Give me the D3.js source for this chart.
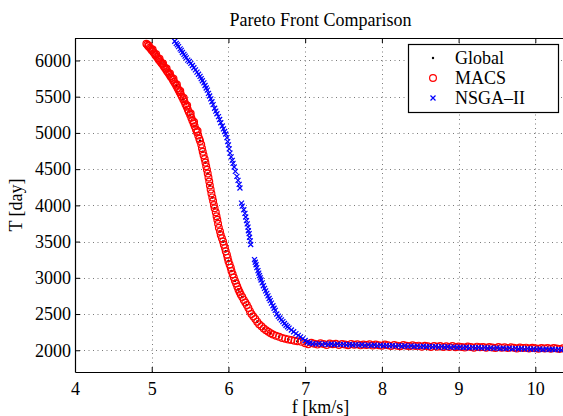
<!DOCTYPE html>
<html>
<head>
<meta charset="utf-8">
<script src="https://cdn.jsdelivr.net/npm/d3@7"></script>
<style>
  html, body { margin: 0; padding: 0; background: #fff; }
  svg { display: block; }
  text { font-family: "Liberation Serif", "Times New Roman", serif; fill: #000; }
</style>
</head>
<body>
<svg id="chart" width="563" height="416"></svg>
<script>
// Axis ticks
const xTicks = [4, 5, 6, 7, 8, 9, 10];
const yTicks = [2000, 2500, 3000, 3500, 4000, 4500, 5000, 5500, 6000];

// Legend entries
const seriesNames = ["Global", "MACS", "NSGA\u2013II"];

// MACS front: [f (km/s), T (day)]
const macsPoints = [
  [4.930,6230],[4.942,6216],[4.955,6196],[4.962,6205],[4.975,6176],[4.988,6162],[5.000,6140],[5.012,6150],
  [5.020,6118],[5.034,6100],[5.048,6072],[5.058,6086],[5.066,6050],[5.080,6032],[5.094,6008],[5.102,6022],
  [5.112,5986],[5.126,5964],[5.140,5946],[5.148,5958],[5.156,5920],[5.170,5900],[5.186,5876],[5.194,5890],
  [5.200,5852],[5.216,5830],[5.230,5806],[5.238,5820],[5.246,5780],[5.260,5760],[5.276,5732],[5.284,5748],
  [5.290,5706],[5.304,5682],[5.320,5650],[5.328,5668],[5.336,5620],[5.350,5594],[5.364,5562],[5.372,5578],
  [5.380,5530],[5.394,5500],[5.410,5464],[5.418,5482],[5.426,5432],[5.440,5396],[5.456,5360],[5.462,5378],
  [5.470,5324],[5.484,5290],[5.500,5250],[5.508,5268],[5.516,5210],[5.530,5172],[5.546,5130],[5.552,5150],
  [5.560,5092],[5.576,5048],[5.590,5008],[5.598,5026],[5.606,4964],[5.620,4920],
  [5.630,4890],[5.645,4840],[5.655,4790],[5.665,4740],[5.676,4690],[5.690,4640],[5.700,4590],[5.710,4540],
  [5.720,4490],[5.730,4440],[5.740,4385],[5.750,4330],[5.758,4275],[5.768,4220],[5.778,4165],[5.790,4110],
  [5.800,4060],[5.810,4005],[5.820,3960],[5.835,3905],[5.845,3850],[5.855,3800],[5.865,3745],[5.875,3690],
  [5.890,3640],[5.900,3590],[5.915,3545],[5.930,3500],[5.940,3455],[5.955,3410],[5.965,3365],[5.980,3320],
  [5.990,3275],[6.000,3230],[6.015,3185],[6.030,3140],[6.040,3095],[6.055,3050],[6.070,3005],[6.085,2960],
  [6.100,2920],[6.115,2880],[6.130,2840],[6.145,2805],[6.160,2770],[6.180,2735],[6.200,2695],[6.220,2660],
  [6.240,2625],[6.260,2585],[6.280,2540],[6.300,2500],[6.325,2465],[6.350,2430],[6.375,2395],[6.400,2360],
  [6.430,2330],[6.460,2300],[6.490,2275],[6.520,2255],[6.550,2235],[6.580,2218],[6.620,2200],[6.660,2185],
  [6.700,2170],[6.740,2160],[6.780,2150],[6.820,2140],[6.860,2132],[6.900,2125],[6.950,2116],
  [7.000,2098],[7.040,2084],[7.080,2102],[7.120,2090],[7.160,2078],[7.200,2096],[7.240,2086],[7.280,2074],
  [7.320,2094],[7.360,2082],[7.400,2090],[7.440,2072],[7.480,2088],[7.520,2080],[7.560,2070],[7.600,2088],
  [7.640,2076],[7.680,2084],[7.720,2068],[7.760,2080],[7.800,2072],[7.840,2084],[7.880,2066],[7.920,2078],
  [7.960,2070],[8.000,2062],[8.040,2078],[8.080,2068],[8.120,2060],[8.160,2074],[8.200,2064],[8.240,2056],
  [8.280,2072],[8.320,2062],[8.360,2054],[8.400,2068],[8.440,2058],[8.480,2064],[8.520,2050],[8.560,2062],
  [8.600,2054],[8.640,2046],[8.680,2060],[8.720,2050],[8.760,2058],[8.800,2044],[8.840,2054],[8.880,2046],
  [8.920,2058],[8.960,2042],[9.000,2052],[9.040,2046],[9.080,2038],[9.120,2052],[9.160,2044],[9.200,2036],
  [9.240,2050],[9.280,2040],[9.320,2046],[9.360,2034],[9.400,2044],[9.440,2038],[9.480,2030],[9.520,2044],
  [9.560,2036],[9.600,2042],[9.640,2030],[9.680,2040],[9.720,2034],[9.760,2026],[9.800,2038],[9.840,2030],
  [9.880,2036],[9.920,2024],[9.960,2034],[10.000,2028],[10.040,2020],[10.080,2032],[10.120,2026],[10.160,2030],
  [10.200,2020],[10.240,2030],[10.280,2024],[10.320,2018],[10.360,2028],[10.400,2022]
];

// NSGA-II front: [f (km/s), T (day)]
const nsgaPoints = [
  [5.300,6265],[5.320,6235],[5.335,6215],[5.350,6190],[5.370,6160],[5.385,6140],[5.400,6110],[5.420,6085],
  [5.435,6060],[5.450,6035],[5.470,6005],[5.490,5985],[5.510,5960],[5.530,5930],[5.550,5900],[5.570,5870],
  [5.590,5840],[5.610,5810],[5.630,5780],[5.645,5750],[5.660,5720],[5.680,5690],[5.695,5655],[5.710,5620],
  [5.725,5590],[5.740,5545],[5.755,5510],[5.770,5470],[5.785,5430],[5.800,5390],[5.820,5340],[5.835,5300],
  [5.850,5265],[5.870,5225],[5.885,5185],[5.900,5140],[5.920,5095],[5.935,5055],[5.950,5020],[5.965,4985],
  [5.980,4935],[5.990,4880],[6.000,4835],[6.010,4780],[6.020,4720],[6.035,4670],[6.050,4620],[6.060,4580],
  [6.075,4530],[6.090,4470],[6.110,4400],[6.125,4345],[6.140,4290],[6.150,4240],
  [6.170,4030],[6.180,3990],[6.200,3940],[6.215,3890],[6.225,3840],[6.235,3790],[6.245,3745],[6.255,3700],
  [6.260,3650],[6.270,3610],[6.275,3560],[6.285,3510],[6.290,3460],
  [6.340,3250],[6.350,3215],[6.360,3180],[6.370,3140],[6.385,3100],[6.395,3065],[6.405,3030],[6.415,3000],
  [6.425,2970],[6.440,2930],[6.455,2890],[6.470,2855],[6.485,2820],[6.500,2785],[6.515,2750],[6.530,2715],
  [6.545,2685],[6.560,2650],[6.580,2615],[6.595,2580],[6.610,2550],[6.630,2500],[6.650,2470],[6.670,2445],
  [6.690,2420],[6.710,2395],[6.730,2370],[6.750,2345],[6.770,2325],[6.790,2305],[6.820,2280],[6.850,2255],
  [6.880,2230],[6.910,2205],[6.940,2185],[6.970,2160],[7.000,2135],[7.030,2110],[7.060,2100],
  [7.100,2090],[7.140,2084],[7.180,2092],[7.220,2082],[7.260,2088],[7.300,2080],[7.340,2086],[7.380,2076],
  [7.420,2084],[7.460,2078],[7.500,2082],[7.540,2074],[7.580,2080],[7.620,2072],[7.660,2078],[7.700,2070],
  [7.740,2076],[7.780,2068],[7.820,2074],[7.860,2066],[7.900,2072],[7.940,2064],[7.980,2070],[8.020,2062],
  [8.060,2068],[8.100,2060],[8.140,2066],[8.180,2058],[8.220,2064],[8.260,2056],[8.300,2062],[8.340,2054],
  [8.380,2060],[8.420,2052],[8.460,2058],[8.500,2050],[8.540,2056],[8.580,2048],[8.620,2054],[8.660,2046],
  [8.700,2052],[8.740,2044],[8.780,2050],[8.820,2042],[8.860,2048],[8.900,2040],[8.940,2046],[8.980,2038],
  [9.020,2044],[9.060,2036],[9.100,2042],[9.140,2034],[9.180,2040],[9.220,2032],[9.260,2038],[9.300,2030],
  [9.340,2036],[9.380,2028],[9.420,2034],[9.460,2026],[9.500,2032],[9.540,2024],[9.580,2030],[9.620,2022],
  [9.660,2028],[9.700,2020],[9.740,2026],[9.780,2018],[9.820,2024],[9.860,2016],[9.900,2022],[9.940,2014],
  [9.980,2020],[10.020,2012],[10.060,2018],[10.100,2010],[10.140,2016],[10.180,2010],[10.220,2014],[10.260,2008],
  [10.300,2012],[10.340,2006],[10.380,2010]
];

// Global reference front: [f (km/s), T (day)]
const globalPoints = [
  [5.126,5964],[5.230,5806],[5.320,5650],[5.410,5464],[5.500,5250],[5.560,5092],
  [5.630,4890],[5.665,4740],[5.700,4590],[5.730,4440],[5.758,4275],[5.790,4110],[5.820,3960],[5.855,3800],
  [5.890,3640],[5.930,3500],[5.965,3365],[6.000,3230],[6.040,3095],[6.085,2960],[6.130,2840],[6.180,2735],
  [6.240,2625],[6.300,2500],[6.375,2395],[6.460,2300],[6.550,2235],[6.660,2185],[6.780,2150],[6.900,2125],
  [7.000,2098],[7.200,2088],[7.400,2084],[7.600,2078],[7.800,2072],[8.000,2066],[8.200,2060],[8.400,2056],
  [8.600,2050],[8.800,2046],[9.000,2042],[9.200,2038],[9.400,2034],[9.600,2030],[9.800,2026],[10.000,2022],
  [10.200,2018],[10.400,2014]
];

const svg = d3.select("#chart");
const margin = { left: 75, top: 38, right: 566, bottom: 372 };

const x = d3.scaleLinear().domain([4, 10.4]).range([margin.left, margin.right]);
const y = d3.scaleLinear().domain([1700, 6310]).range([margin.bottom, margin.top]);

svg.append("defs").append("clipPath").attr("id", "plot-clip")
  .append("rect")
  .attr("x", margin.left).attr("y", margin.top)
  .attr("width", margin.right - margin.left).attr("height", margin.bottom - margin.top);

// Dotted grid
const grid = svg.append("g").attr("class", "grid")
  .attr("stroke", "#7a7a7a").attr("stroke-width", 1).attr("stroke-dasharray", "1,3.5");
grid.selectAll("line.gx").data(xTicks.slice(1)).join("line").attr("class", "gx")
  .attr("x1", d => Math.round(x(d)) + 0.5).attr("x2", d => Math.round(x(d)) + 0.5)
  .attr("y1", margin.top).attr("y2", margin.bottom);
grid.selectAll("line.gy").data(yTicks).join("line").attr("class", "gy")
  .attr("y1", d => Math.round(y(d)) + 0.5).attr("y2", d => Math.round(y(d)) + 0.5)
  .attr("x1", margin.left).attr("x2", margin.right);

// Data markers
const plot = svg.append("g").attr("clip-path", "url(#plot-clip)");

plot.append("g").selectAll("circle").data(globalPoints).join("circle")
  .attr("cx", d => x(d[0])).attr("cy", d => y(d[1])).attr("r", 1.3).attr("fill", "#000");

plot.append("g").selectAll("circle").data(macsPoints).join("circle")
  .attr("cx", d => x(d[0])).attr("cy", d => y(d[1])).attr("r", 3.4)
  .attr("fill", "none").attr("stroke", "#ff0000").attr("stroke-width", 1.2);

const xMark = 2.5;
plot.append("g").selectAll("path").data(nsgaPoints).join("path")
  .attr("d", d => {
    const cx = x(d[0]), cy = y(d[1]);
    return `M${cx - xMark},${cy - xMark}L${cx + xMark},${cy + xMark}M${cx - xMark},${cy + xMark}L${cx + xMark},${cy - xMark}`;
  })
  .attr("fill", "none").attr("stroke", "#0000ff").attr("stroke-width", 1.2);

// Axes (ticks inward, mirrored on top)
const axisBottom = d3.axisBottom(x).tickValues(xTicks).tickFormat(d3.format("d")).tickSizeInner(-5).tickSizeOuter(0).tickPadding(10);
const axisTop = d3.axisTop(x).tickValues(xTicks).tickFormat("").tickSizeInner(-5).tickSizeOuter(0);
const axisLeft = d3.axisLeft(y).tickValues(yTicks).tickFormat(d3.format("d")).tickSizeInner(-5).tickSizeOuter(0).tickPadding(4);

function styleAxis(g) {
  g.select(".domain").attr("stroke", "#000").attr("stroke-width", 1.2);
  g.selectAll(".tick line").attr("stroke", "#000").attr("stroke-width", 1);
  g.selectAll(".tick text").attr("font-size", 18).attr("font-family", "Liberation Serif, Times New Roman, serif").attr("fill", "#000");
}

svg.append("g").attr("transform", `translate(0,${margin.bottom})`).call(axisBottom).call(styleAxis);
svg.append("g").attr("transform", `translate(0,${margin.top})`).call(axisTop).call(styleAxis);
svg.append("g").attr("transform", `translate(${margin.left},0)`).call(axisLeft).call(styleAxis);

// Title and axis labels
svg.append("text").attr("x", (margin.left + margin.right) / 2).attr("y", 26)
  .attr("text-anchor", "middle").attr("font-size", 18).text("Pareto Front Comparison");
svg.append("text").attr("x", (margin.left + margin.right) / 2).attr("y", 413)
  .attr("text-anchor", "middle").attr("font-size", 18).text("f [km/s]");
svg.append("text").attr("transform", `translate(22,${(margin.top + margin.bottom) / 2}) rotate(-90)`)
  .attr("text-anchor", "middle").attr("font-size", 18).text("T [day]");

// Legend
const legend = svg.append("g");
legend.append("rect").attr("x", 408.5).attr("y", 44.5).attr("width", 150).attr("height", 68)
  .attr("fill", "#fff").attr("stroke", "#000").attr("stroke-width", 1.2);
const rowY = [58, 78, 98];
const markerX = 433;
legend.append("circle").attr("cx", markerX).attr("cy", rowY[0]).attr("r", 1.2).attr("fill", "#000");
legend.append("circle").attr("cx", markerX).attr("cy", rowY[1]).attr("r", 3.4)
  .attr("fill", "none").attr("stroke", "#ff0000").attr("stroke-width", 1.2);
legend.append("path")
  .attr("d", `M${markerX - xMark},${rowY[2] - xMark}L${markerX + xMark},${rowY[2] + xMark}M${markerX - xMark},${rowY[2] + xMark}L${markerX + xMark},${rowY[2] - xMark}`)
  .attr("stroke", "#0000ff").attr("stroke-width", 1.2).attr("fill", "none");
legend.selectAll("text.lab").data(seriesNames).join("text").attr("class", "lab")
  .attr("x", 455).attr("y", (d, i) => rowY[i]).attr("dy", "0.35em")
  .attr("font-size", 18).text(d => d);
</script>
</body>
</html>
